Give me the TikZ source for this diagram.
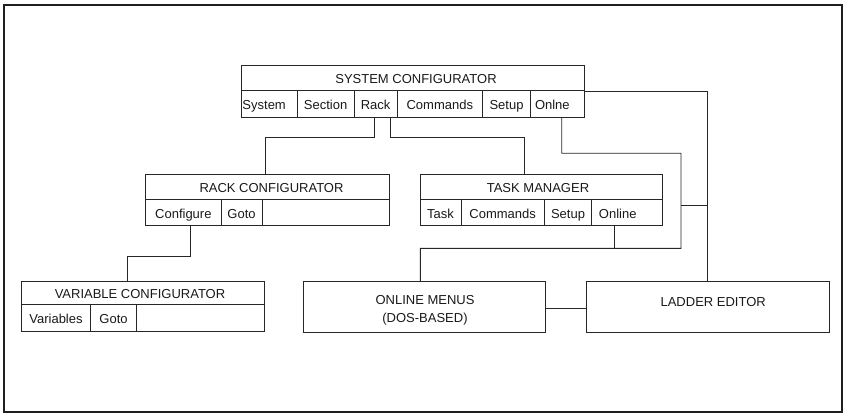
\documentclass[tikz,border=0pt]{standalone}
\usepackage{fontspec}
\setmainfont{Liberation Sans}
\usetikzlibrary{calc}
\begin{document}
\begin{tikzpicture}[x=1pt,y=-1pt,
  font=\fontsize{13}{17.5}\selectfont,
  plainbox/.style={draw=black!85, line width=0.9pt, inner sep=0pt, text=black!90, anchor=center},
  box/.style={plainbox, text height=11.5pt, text depth=0pt},
  wire/.style={draw=black!85, line width=0.9pt},
  lbl/.style={text=black!90, inner sep=0pt, text height=11.5pt, text depth=0pt}]
\useasboundingbox (0,0) rectangle (845,414);
\draw[line width=2pt, draw=black!88] (4,4.7) rectangle (841.5,411.5);

% SYSTEM CONFIGURATOR
\node[box,minimum width=343pt,minimum height=25pt] (sct) at (412.5,78.2) {};
\node[lbl] at (416,78.2) {SYSTEM CONFIGURATOR};
\node[box,minimum width=56.3pt,minimum height=26.3pt,label={[lbl,xshift=-5pt]center:System}] (sys) at (269.15,103.85) {};
\node[box,minimum width=56.7pt,minimum height=26.3pt] (sec) at (325.65,103.85) {Section};
\node[box,minimum width=43.3pt,minimum height=26.3pt] (rack) at (375.65,103.85) {Rack};
\node[box,minimum width=85pt,minimum height=26.3pt] (cmd) at (439.8,103.85) {Commands};
\node[box,minimum width=48.4pt,minimum height=26.3pt] (setup) at (506.5,103.85) {Setup};
\node[box,minimum width=53.3pt,minimum height=26.3pt,label={[lbl,xshift=-5pt]center:Onlne}] (onl) at (557.35,103.85) {};

% RACK CONFIGURATOR
\node[box,minimum width=243.3pt,minimum height=25pt] (rct) at (267.35,186.8) {};
\node[lbl] at (271.5,186.8) {RACK CONFIGURATOR};
\node[box,minimum width=75.3pt,minimum height=26.4pt] (cfg) at (183.35,212.5) {Configure};
\node[box,minimum width=41pt,minimum height=26.4pt] (rgo) at (241.5,212.5) {Goto};
\node[box,minimum width=127pt,minimum height=26.4pt] (rbl) at (325.5,212.5) {};

% TASK MANAGER
\node[box,minimum width=242.7pt,minimum height=25pt] (tmt) at (541.35,187) {};
\node[lbl] at (538,187) {TASK MANAGER};
\node[box,minimum width=41pt,minimum height=26pt] (tsk) at (440.5,212.5) {Task};
\node[box,minimum width=83.3pt,minimum height=26pt] (tcm) at (502.65,212.5) {Commands};
\node[box,minimum width=47.4pt,minimum height=26pt] (tsu) at (568,212.5) {Setup};
\node[box,minimum width=71pt,minimum height=26pt,label={[lbl,xshift=-9.5pt]center:Online}] (tmo) at (627.2,212.5) {};

% VARIABLE CONFIGURATOR
\node[box,minimum width=242.6pt,minimum height=22.6pt] (vt) at (143,293) {};
\node[lbl] at (140,293) {VARIABLE CONFIGURATOR};
\node[box,minimum width=68.6pt,minimum height=27.4pt] (var) at (56,318) {Variables};
\node[box,minimum width=46.4pt,minimum height=27.4pt] (vgo) at (113.5,318) {Goto};
\node[box,minimum width=127.6pt,minimum height=27.4pt] (vbl) at (200.5,318) {};

% ONLINE MENUS / LADDER EDITOR
\node[plainbox,minimum width=242.7pt,minimum height=50.3pt] (om) at (424.35,306.85) {};
\node[lbl,align=center,text height=,text depth=] at (425,310.5) {ONLINE MENUS\\(DOS-BASED)};
\node[plainbox,minimum width=243pt,minimum height=50.3pt,label={[lbl,yshift=6.3pt,xshift=5pt]center:LADDER EDITOR}] (ld) at (708.2,306.85) {};

% connectors
\coordinate (j1) at (681,153.3);
\coordinate (j2) at (420.3,248.3);
\coordinate (j3) at (681,205.3);
\coordinate (lt) at ([xshift=-1.2pt]ld.north);

\draw[wire] ([xshift=-1.3pt]rack.south) -- ++(0,20.3) -| ([xshift=-1.6pt]rct.north);
\draw[wire] ([xshift=14.65pt]rack.south) -- ++(0,20.3) -| ([xshift=-17.35pt]tmt.north);
\draw[wire] ([xshift=7pt]cfg.south) -- ++(0,30) -| ([xshift=-15.7pt]vt.north);
\draw[wire] ([xshift=4.35pt]onl.south) |- (j1) |- (j2) -- ([xshift=-4pt]om.north);
\draw[wire] ([xshift=-12.7pt]tmo.south) coordinate (t1) -- (t1 |- j2);
\draw[wire] ([yshift=-1.5pt]onl.north east) -| (lt);
\draw[wire] (j3) -- (j3 -| lt);
\draw[wire] ([yshift=-1.85pt]om.east) -- ([yshift=-1.85pt]ld.west);
\end{tikzpicture}
\end{document}
